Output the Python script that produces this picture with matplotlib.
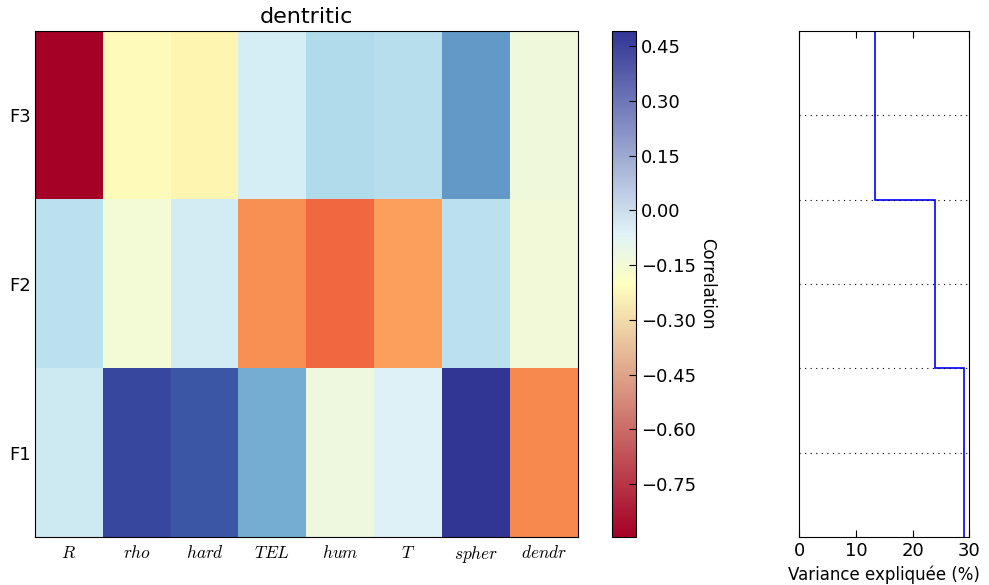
import numpy as np
import matplotlib
matplotlib.use("Agg")
import matplotlib.pyplot as plt
from matplotlib.colors import LinearSegmentedColormap
from matplotlib.cm import ScalarMappable

plt.rcParams['mathtext.fontset'] = 'cm'
plt.rcParams['font.family'] = ['DejaVu Sans']
plt.rcParams['font.size'] = 13
plt.rcParams['xtick.direction'] = 'in'
plt.rcParams['ytick.direction'] = 'in'

# correlations of each variable with the factors
variables = ['R', 'rho', 'hard', 'TEL', 'hum', 'T', 'spher', 'dendr']
factors = ['F1', 'F2', 'F3']
F1 = [-0.015, 0.45, 0.42, 0.214, -0.126, -0.056, 0.491, -0.555]
F2 = [0.027, -0.147, -0.029, -0.54, -0.625, -0.507, 0.027, -0.14]
F3 = [-0.895, -0.216, -0.243, -0.036, 0.061, 0.047, 0.262, -0.133]
# explained variance (%) per factor
variance = [29.1, 24.0, 13.3]

corr = np.array([F1, F2, F3])

fig = plt.figure(figsize=(9.89, 5.85), dpi=100)
ax = fig.add_axes([0.0354, 0.082, 0.549, 0.865])
cax = fig.add_axes([0.619, 0.082, 0.0243, 0.865])
ax2 = fig.add_axes([0.808, 0.082, 0.172, 0.865])

im = ax.imshow(corr, cmap='RdYlBu', origin='lower', aspect='auto',
               interpolation='nearest', vmin=corr.min(), vmax=corr.max())
ax.set_xticks(range(len(variables)))
ax.set_xticklabels(['$%s$' % v for v in variables], fontsize=12.5)
ax.set_yticks(range(len(factors)))
ax.set_yticklabels(factors)
ax.tick_params(axis='x', length=0, pad=5)
ax.tick_params(axis='y', length=0, pad=3)
ax.set_title('dentritic', fontsize=16)

# the colour bar is a smoother, coarser blend of the same map
rdylbu = plt.get_cmap('RdYlBu')
bar_cmap = LinearSegmentedColormap.from_list(
    'bar', [(0, rdylbu(0.0)), (0.5, rdylbu(0.5)), (0.6, rdylbu(0.6)), (1, rdylbu(1.0))])
sm = ScalarMappable(norm=im.norm, cmap=bar_cmap)
ticks = np.arange(-0.75, 0.46, 0.15)
cb = fig.colorbar(sm, cax=cax, ticks=ticks)
cb.ax.set_yticklabels([('%.2f' % t).replace('-', '\u2212') for t in ticks])
cb.ax.tick_params(direction='in', length=5)
cb.set_label('Correlation', rotation=270, labelpad=14, fontsize=12)

ax2.stairs(variance, np.arange(len(variance) + 1), orientation='horizontal',
           baseline=None, color='b', linewidth=1.2)
ax2.set_xlim(0, 30)
ax2.set_ylim(0, 3)
ax2.set_xticks([0, 10, 20, 30])
ax2.set_yticks(np.arange(0.5, 3, 0.5))
ax2.yaxis.grid(True, linestyle=(0, (1, 4)), color='k', linewidth=0.8)
ax2.tick_params(axis='y', length=0, labelleft=False)
ax2.tick_params(axis='x', top=True, length=5)
ax2.set_xlabel('Variance expliquée (%)', fontsize=12)

fig.savefig('out.png', dpi=100)
